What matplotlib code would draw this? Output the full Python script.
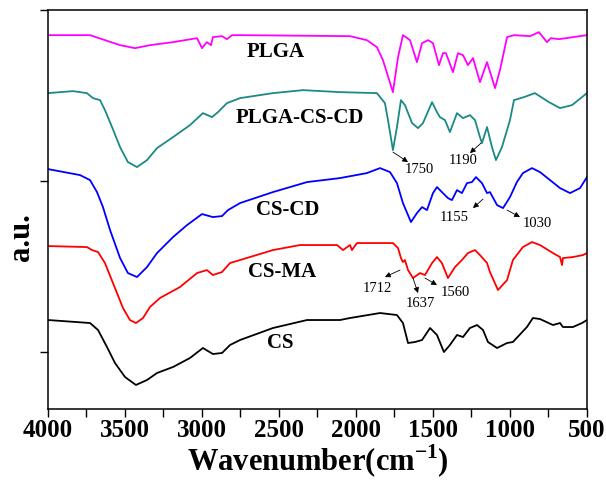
import matplotlib
matplotlib.use("Agg")
from matplotlib import pyplot as plt
from matplotlib.ticker import MultipleLocator, NullFormatter

plt.rcParams["font.family"] = ["Liberation Serif", "DejaVu Serif"]
plt.rcParams["mathtext.fontset"] = "custom"
plt.rcParams["mathtext.rm"] = "Liberation Serif"
plt.rcParams["mathtext.bf"] = "Liberation Serif:bold"

# FTIR spectra (wavenumber in cm-1, intensity in a.u., offset per trace)
plga_wn = [4000, 3727, 3532, 3435, 3338, 3188, 3032, 3000, 2968, 2942, 2929, 2870,
           2838, 2805, 2753, 2039, 1929, 1864, 1825, 1760, 1727, 1695, 1649, 1604,
           1571, 1532, 1500, 1461, 1435, 1416, 1370, 1338, 1305, 1273, 1240, 1195,
           1149, 1097, 1065, 1019, 974, 870, 812, 786, 760, 734, 682, 500]
plga_val = [374, 374, 364, 361, 364, 367, 371, 361, 367, 364, 372, 373,
            370, 374, 374, 373, 369, 362, 349, 317, 352, 374, 369, 347,
            366, 369, 366, 344, 356, 356, 337, 356, 354, 344, 351, 327,
            347, 321, 339, 372, 374, 373, 377, 372, 367, 371, 370, 374]

plgacscd_wn = [4000, 3838, 3747, 3708, 3662, 3630, 3584, 3532, 3481, 3422, 3357, 3292,
               3188, 3078, 2994, 2935, 2896, 2838, 2753, 2539, 2344, 2104, 1864, 1812,
               1792, 1760, 1734, 1708, 1682, 1636, 1597, 1565, 1506, 1474, 1455, 1422,
               1390, 1344, 1305, 1260, 1227, 1195, 1182, 1149, 1117, 1091, 1052, 1000,
               974, 909, 838, 747, 675, 597, 500]
plgacscd_val = [316, 318, 316, 311, 309, 299, 282, 262, 247, 242, 249, 261,
                272, 284, 296, 292, 297, 306, 311, 316, 319, 317, 316, 306,
                289, 259, 282, 309, 304, 286, 281, 286, 307, 297, 292, 289,
                277, 296, 291, 294, 289, 272, 266, 282, 262, 249, 262, 289,
                309, 312, 316, 307, 301, 304, 316]

cscd_wn = [4000, 3792, 3727, 3682, 3643, 3597, 3532, 3481, 3422, 3357, 3292, 3188,
           3097, 3000, 2929, 2870, 2831, 2753, 2539, 2318, 2104, 1929, 1844, 1779,
           1734, 1695, 1643, 1604, 1571, 1539, 1500, 1474, 1442, 1403, 1377, 1344,
           1312, 1279, 1247, 1221, 1182, 1149, 1130, 1084, 1045, 1000, 955, 916,
           857, 805, 675, 610, 545, 500]
cscd_val = [240, 234, 229, 217, 202, 179, 151, 136, 132, 142, 156, 172,
            184, 195, 192, 193, 199, 206, 217, 227, 231, 236, 241, 237,
            226, 206, 187, 196, 202, 199, 216, 222, 217, 211, 209, 219,
            216, 226, 227, 232, 226, 216, 217, 204, 201, 212, 227, 236,
            241, 237, 221, 216, 221, 232]

csma_wn = [4000, 3747, 3714, 3675, 3630, 3578, 3513, 3468, 3429, 3383, 3338, 3273,
           3143, 3032, 2968, 2929, 2870, 2818, 2753, 2539, 2364, 2123, 2084, 2039,
           2026, 1994, 1760, 1727, 1708, 1695, 1682, 1662, 1630, 1584, 1552, 1506,
           1474, 1442, 1403, 1357, 1312, 1273, 1227, 1195, 1149, 1130, 1078, 1019,
           981, 916, 857, 805, 721, 675, 662, 656, 591, 526, 500]
csma_val = [163, 162, 159, 157, 146, 126, 101, 89, 86, 91, 102, 111,
            122, 136, 139, 134, 137, 146, 149, 159, 164, 164, 159, 164,
            159, 166, 166, 161, 151, 147, 149, 139, 131, 136, 134, 146,
            152, 146, 131, 142, 149, 156, 159, 154, 146, 137, 119, 129,
            149, 162, 167, 164, 156, 152, 144, 151, 152, 154, 156]

cs_wn = [4000, 3727, 3675, 3617, 3565, 3500, 3429, 3357, 3292, 3188, 3078, 2994,
         2929, 2870, 2818, 2753, 2539, 2318, 2104, 2039, 1844, 1734, 1695, 1662,
         1617, 1571, 1519, 1474, 1429, 1390, 1344, 1305, 1260, 1214, 1175, 1143,
         1084, 1019, 981, 890, 851, 805, 721, 675, 656, 591, 532, 500]
cs_val = [89, 86, 79, 62, 46, 32, 24, 29, 36, 42, 51, 61,
          55, 56, 64, 69, 81, 89, 89, 91, 96, 94, 86, 66,
          67, 69, 81, 74, 57, 64, 74, 72, 81, 84, 79, 67,
          61, 66, 67, 82, 91, 90, 84, 86, 82, 82, 86, 89]

spectra = [
    ("PLGA", plga_wn, plga_val, "#FF00FF"),
    ("PLGA-CS-CD", plgacscd_wn, plgacscd_val, "#1A8A86"),
    ("CS-CD", cscd_wn, cscd_val, "#0000FF"),
    ("CS-MA", csma_wn, csma_val, "#FF0000"),
    ("CS", cs_wn, cs_val, "#000000"),
]

# label positions (wavenumber, a.u.)
label_pos = {
    "PLGA": (2519, 357),
    "PLGA-CS-CD": (2364, 291),
    "CS-CD": (2442, 199),
    "CS-MA": (2481, 137),
    "CS": (2494, 66),
}

# peak annotations: text, arrow tail, arrow head, text position
peak_notes = [
    ("1750", (1760, 257), (1662, 247), (1591, 240)),
    ("1190", (1188, 266), (1260, 256), (1305, 249)),
    ("1155", (1175, 210), (1240, 201), (1364, 192)),
    ("1030", (1019, 199), (935, 192), (825, 186)),
    ("1712", (1714, 139), (1812, 132), (1864, 121)),
    ("1637", (1630, 131), (1597, 116), (1584, 106)),
    ("1560", (1552, 131), (1474, 124), (1357, 117)),
]

fig = plt.figure(figsize=(6.06, 4.84), dpi=100)
ax = fig.add_axes([0.0792, 0.155, 0.8894, 0.824])

for name, wn, val, color in spectra:
    ax.plot(wn, val, color=color, lw=1.3)
    lx, ly = label_pos[name]
    ax.text(lx, ly, name, ha="center", va="center", fontsize=15,
            fontweight="bold")

for txt, tail, head, tpos in peak_notes:
    ax.annotate("", xy=head, xytext=tail,
                arrowprops=dict(arrowstyle="-|>", color="black", lw=0.6,
                                mutation_scale=8, shrinkA=0, shrinkB=0))
    ax.text(tpos[0], tpos[1], txt, ha="center", va="center", fontsize=10.5)

ax.set_xlim(4000, 500)
ax.set_ylim(0, 399)
ax.xaxis.set_major_locator(MultipleLocator(500))
ax.xaxis.set_minor_locator(MultipleLocator(250))
ax.set_yticks([57, 228, 399])
ax.yaxis.set_major_formatter(NullFormatter())
ax.tick_params(axis="both", which="both", direction="out", length=5.5,
               width=1.0, top=False, right=False)
ax.tick_params(axis="x", labelsize=18, pad=2)
for lbl in ax.get_xticklabels():
    lbl.set_fontweight("bold")
for sp in ax.spines.values():
    sp.set_linewidth(1.1)

ax.set_xlabel("Wavenumber(cm$^{\\mathbf{-1}}$)", fontsize=22, fontweight="bold",
              labelpad=0)
ax.set_ylabel("a.u.", fontsize=22, fontweight="bold")
ax.yaxis.set_label_coords(-0.022, 0.43)

fig.savefig("out.png", dpi=100)
